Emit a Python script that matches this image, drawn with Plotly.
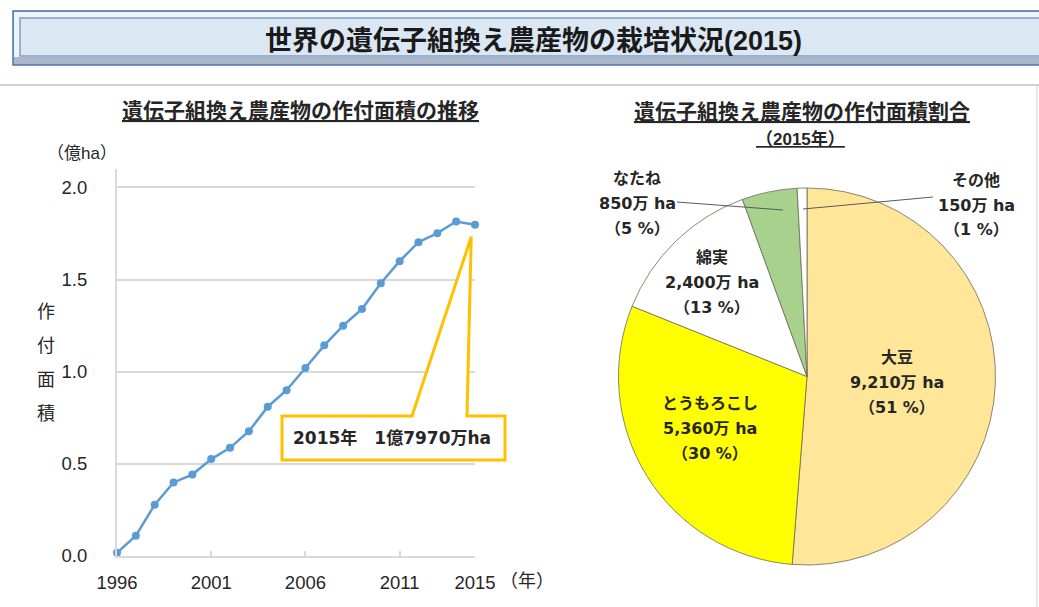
import plotly.graph_objects as go

# ---------------- data ----------------
years = list(range(1996, 2016))
area_oku_ha = [0.017, 0.11, 0.278, 0.399, 0.442, 0.526, 0.587, 0.677, 0.81, 0.90,
               1.02, 1.143, 1.25, 1.34, 1.48, 1.60, 1.703, 1.752, 1.815, 1.797]
x_tickvals = [1996, 2001, 2006, 2011, 2015]
x_ticktext = ["1996", "2001", "2006", "2011", "2015"]
y_tickvals = [0.0, 0.5, 1.0, 1.5, 2.0]
y_ticktext = ["0.0", "0.5", "1.0", "1.5", "2.0"]
y_title_chars = ["作", "付", "面", "積"]

crops = ["大豆", "とうもろこし", "綿実", "なたね", "その他"]
crop_area_man_ha = [9210, 5360, 2400, 850, 150]
crop_share_pct = [51, 30, 13, 5, 1]
crop_colors = ["#FFE699", "#FFFF00", "#FFFFFF", "#A9D18E", "#FFFFFF"]

W, H = 1039, 607
FONT = "Liberation Sans, Noto Sans CJK JP, sans-serif"
WFONT = "DejaVu Sans, Noto Sans CJK JP, sans-serif"


def px(x):
    return x / W


def py(y):
    return 1 - y / H


# line chart geometry (pixels)
LX0, LX1 = 117, 475
LY0, LY1 = 556, 169
YMAX = 2.1


def d2p(xv, yv):
    """data -> paper coordinates for the line chart"""
    xp = px(LX0) + (xv - 1996) / (2015 - 1996) * (px(LX1) - px(LX0))
    yp = py(LY0) + yv / YMAX * (py(LY1) - py(LY0))
    return xp, yp


fig = go.Figure()

fig.add_trace(go.Scatter(
    x=years, y=area_oku_ha, mode="lines+markers",
    line=dict(color="#5B9BD5", width=2.5),
    marker=dict(color="#5B9BD5", size=8),
    cliponaxis=False, showlegend=False,
    xaxis="x", yaxis="y",
))

fig.add_trace(go.Pie(
    values=crop_area_man_ha, labels=crops, sort=False,
    direction="clockwise", rotation=0,
    marker=dict(colors=crop_colors, line=dict(color="#6b6b5a", width=0.8)),
    textinfo="none", showlegend=False,
    domain=dict(x=[px(618), px(996)], y=[py(565), py(188)]),
))

shapes = []
# title banner
shapes.append(dict(type="rect", xref="paper", yref="paper",
                   x0=px(13), x1=px(1045), y0=py(65), y1=py(11),
                   fillcolor="#A9B7C8", line=dict(color="#4F74A6", width=1.5), layer="below"))
shapes.append(dict(type="rect", xref="paper", yref="paper",
                   x0=px(14), x1=px(1045), y0=py(57), y1=py(12),
                   fillcolor="#EEF3FA", line=dict(width=0), layer="below"))
shapes.append(dict(type="rect", xref="paper", yref="paper",
                   x0=px(20), x1=px(1045), y0=py(56), y1=py(18),
                   fillcolor="#DCE7F4", line=dict(color="#7F9FC6", width=1.5), layer="below"))
# separators
shapes.append(dict(type="line", xref="paper", yref="paper",
                   x0=0, x1=1, y0=py(85), y1=py(85),
                   line=dict(color="#D0D0D0", width=2), layer="below"))
shapes.append(dict(type="line", xref="paper", yref="paper",
                   x0=px(1037), x1=px(1037), y0=py(86), y1=0,
                   line=dict(color="#E0E0E0", width=1.5), layer="below"))

# callout (wedge) pointing at 2015 value
tipx, tipy = d2p(years[-1] - 0.2, area_oku_ha[-1] - 0.065)
bx0, bx1, by0, by1 = px(282), px(505), py(460), py(416)
wx0, wx1 = px(412), px(467)
path = (f"M {bx0},{by1} L {wx0},{by1} L {tipx},{tipy} L {wx1},{by1} "
        f"L {bx1},{by1} L {bx1},{by0} L {bx0},{by0} Z")
shapes.append(dict(type="path", xref="paper", yref="paper", path=path,
                   fillcolor="white", line=dict(color="#FFC000", width=3)))

# pie leader lines
shapes.append(dict(type="line", xref="paper", yref="paper",
                   x0=px(677), y0=py(202), x1=px(783), y1=py(210),
                   line=dict(color="#595959", width=1)))
shapes.append(dict(type="line", xref="paper", yref="paper",
                   x0=px(933), y0=py(197), x1=px(803), y1=py(209),
                   line=dict(color="#595959", width=1)))

ann = []


def text(x, y, s, size=15, bold=False, color="#262626", xanchor="center", family=FONT):
    ann.append(dict(x=px(x), y=py(y), xref="paper", yref="paper",
                    text=(f"<b>{s}</b>" if bold else s), showarrow=False,
                    xanchor=xanchor, yanchor="middle",
                    font=dict(size=size, color=color, family=family)))


text(533, 41, "世界の遺伝子組換え農産物の栽培状況(2015)", size=27, bold=True, color="#1a1a1a")
text(300, 110, "<u>遺伝子組換え農産物の作付面積の推移</u>", size=21, bold=True)
text(802, 112, "<u>遺伝子組換え農産物の作付面積割合</u>", size=21, bold=True)
text(800, 139, "<u>（2015年）</u>", size=17, bold=True)
text(82, 153, "（億ha）", size=17)
for i, ch in enumerate(y_title_chars):
    text(46, 312 + 34 * i, ch, size=18)
text(527, 581, "（年）", size=18)
text(392, 438, "2015年　1億7970万ha", size=17, bold=True, family=WFONT)

# pie labels (three lines each)
pie_label_pos = [(897, 357), (710, 403), (712, 257), (637, 178), (976, 180)]
for name, v, p, (x, y) in zip(crops, crop_area_man_ha, crop_share_pct, pie_label_pos):
    lines = [name, f"{v:,}万 ha", f"（{p} %）"]
    for j, s in enumerate(lines):
        text(x, y + 25 * j, s, size=16, bold=True, family=WFONT)

fig.update_layout(
    width=W, height=H,
    margin=dict(l=0, r=0, t=0, b=0, pad=0, autoexpand=False),
    paper_bgcolor="white", plot_bgcolor="white",
    xaxis=dict(domain=[px(LX0), px(LX1)], range=[1996, 2015], automargin=False,
               tickvals=x_tickvals, ticktext=x_ticktext,
               showgrid=False, zeroline=False, showline=True,
               linecolor="#D9D9D9", linewidth=2,
               ticks="inside", ticklen=5, tickcolor="#D9D9D9", tickwidth=1.5,
               ticklabelstandoff=9,
               tickfont=dict(size=18.5, color="#262626", family=FONT)),
    yaxis=dict(domain=[py(LY0), py(LY1)], range=[0, YMAX], automargin=False,
               tickvals=y_tickvals, ticktext=y_ticktext,
               showgrid=True, gridcolor="#D9D9D9", gridwidth=2,
               zeroline=False, showline=True, linecolor="#D9D9D9", linewidth=2,
               ticks="", ticklabelstandoff=24,
               tickfont=dict(size=18.5, color="#262626", family=FONT)),
    shapes=shapes, annotations=ann,
)

fig.write_html("out.html",
               post_script="document.body.style.margin='0px';document.body.style.overflow='hidden';")
